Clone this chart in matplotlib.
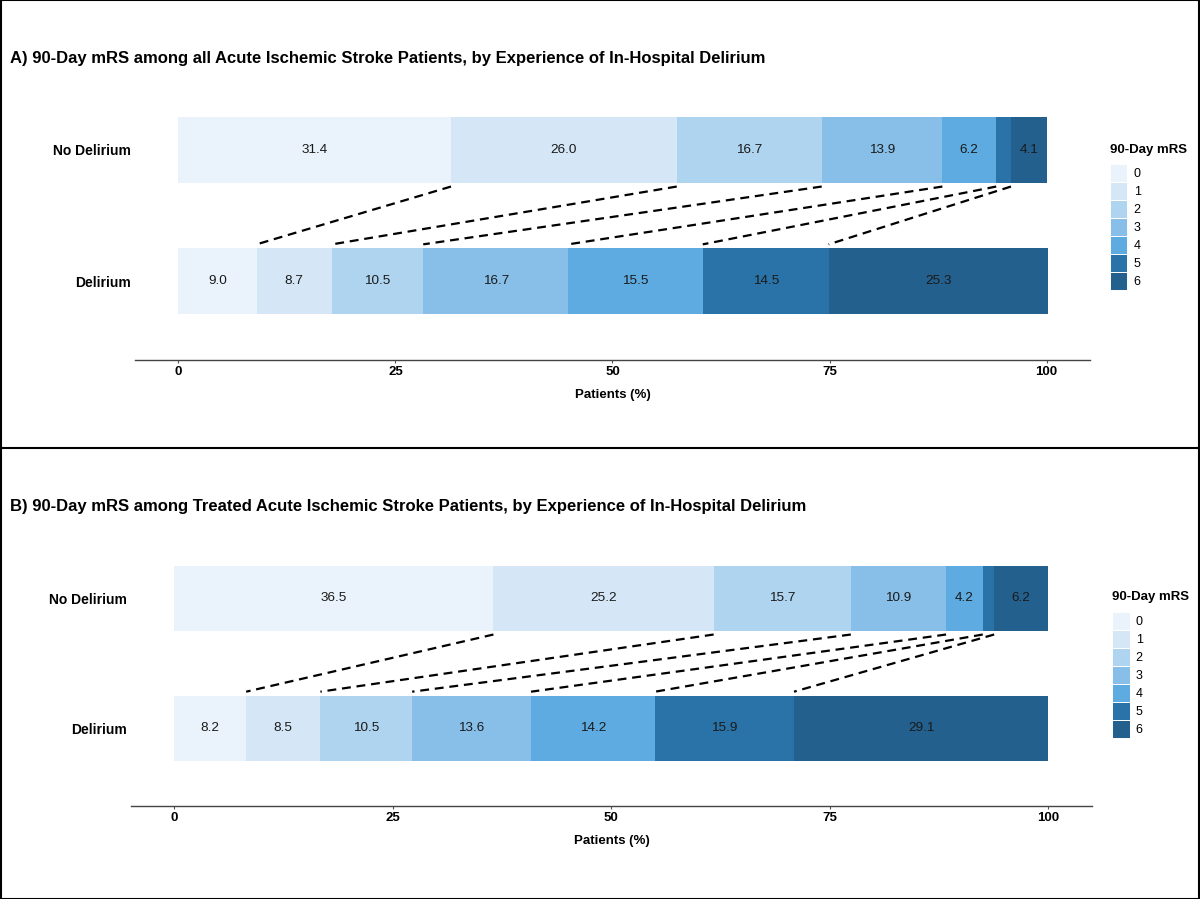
import matplotlib.pyplot as plt
from matplotlib.patches import Patch
from matplotlib.lines import Line2D
import numpy as np

plt.rcParams['font.family'] = ['Liberation Sans', 'DejaVu Sans']

# 90-day mRS distribution (%), mRS 0..6
groups = ['No Delirium', 'Delirium']
mrs_levels = ['0', '1', '2', '3', '4', '5', '6']

all_no_delirium = [31.4, 26.0, 16.7, 13.9, 6.2, 1.7, 4.1]
all_delirium = [9.0, 8.7, 10.5, 16.7, 15.5, 14.5, 25.3]

treated_no_delirium = [36.5, 25.2, 15.7, 10.9, 4.2, 1.3, 6.2]
treated_delirium = [8.2, 8.5, 10.5, 13.6, 14.2, 15.9, 29.1]

titles = ['A) 90-Day mRS among all Acute Ischemic Stroke Patients, by Experience of In-Hospital Delirium',
          'B) 90-Day mRS among Treated Acute Ischemic Stroke Patients, by Experience of In-Hospital Delirium']

colors = ['#EAF3FB', '#D5E7F6', '#AFD4EF', '#87BFE8', '#5DABE0', '#2A73A8', '#23608E']


def draw_panel(ax, top_vals, bottom_vals):
    # top bar = No Delirium (y=1), bottom bar = Delirium (y=0)
    for y, vals in [(1, top_vals), (0, bottom_vals)]:
        left = 0
        for i, v in enumerate(vals):
            ax.barh(y, v, left=left, height=0.5, color=colors[i], edgecolor='none')
            if v > 2:
                ax.text(left + v / 2, y, f'{v:.1f}', ha='center', va='center',
                        fontsize=9.7, color='#1a1a1a')
            left += v
    # dashed connectors between cumulative boundaries
    top_cum = np.cumsum(top_vals)[:-1]
    bot_cum = np.cumsum(bottom_vals)[:-1]
    for a, b in zip(top_cum, bot_cum):
        ax.plot([a, b], [1 - 0.28, 0 + 0.28], color='black', lw=1.6,
                linestyle=(0, (4, 2.6)))
    ax.set_xlim(-5, 105)
    ax.set_ylim(-0.6, 1.6)
    ax.set_yticks([1, 0])
    ax.set_yticklabels(groups, fontweight='bold', fontsize=10)
    ax.set_xticks([0, 25, 50, 75, 100])
    ax.set_xticklabels(['0', '25', '50', '75', '100'], fontweight='bold', fontsize=9.5)
    ax.tick_params(axis='y', length=0, pad=3)
    ax.tick_params(axis='x', length=2.5, color='#555555', pad=2)
    for s in ['top', 'right', 'left']:
        ax.spines[s].set_visible(False)
    ax.spines['bottom'].set_linewidth(1.0)
    ax.spines['bottom'].set_color('#444444')
    ax.set_xlabel('Patients (%)', fontweight='bold', fontsize=9.5, labelpad=8)
    handles = [Patch(facecolor=c, edgecolor='white', linewidth=0.7) for c in colors]
    leg = ax.legend(handles, mrs_levels, title='90-Day mRS', loc='center left',
                    bbox_to_anchor=(1.0, 0.495), frameon=False, fontsize=9,
                    handlelength=1.4, handleheight=1.84, labelspacing=0.0,
                    handletextpad=0.5, borderaxespad=1.2)
    leg.get_title().set_fontweight('bold')
    leg.get_title().set_fontsize(9.5)
    leg._legend_box.align = 'left'
    leg._legend_box.sep = 6


fig = plt.figure(figsize=(12, 8.99), dpi=100)

ax1 = fig.add_axes([0.1125, 0.5996, 0.7958, 0.3215])
draw_panel(ax1, all_no_delirium, all_delirium)
ax2 = fig.add_axes([0.109, 0.1034, 0.801, 0.318])
draw_panel(ax2, treated_no_delirium, treated_delirium)

fig.text(10 / 1200, 1 - 58 / 899, titles[0], fontweight='bold', fontsize=12, va='center')
fig.text(10 / 1200, 1 - 506 / 899, titles[1], fontweight='bold', fontsize=12, va='center')

# outer frame and divider
fig.add_artist(plt.Rectangle((0.0005, 0.0005), 0.999, 0.999, transform=fig.transFigure,
                             fill=False, edgecolor='black', lw=1.5))
fig.add_artist(Line2D([0, 1], [1 - 448 / 899, 1 - 448 / 899], transform=fig.transFigure,
                      color='black', lw=1.5))

fig.savefig('out.png', dpi=100)
